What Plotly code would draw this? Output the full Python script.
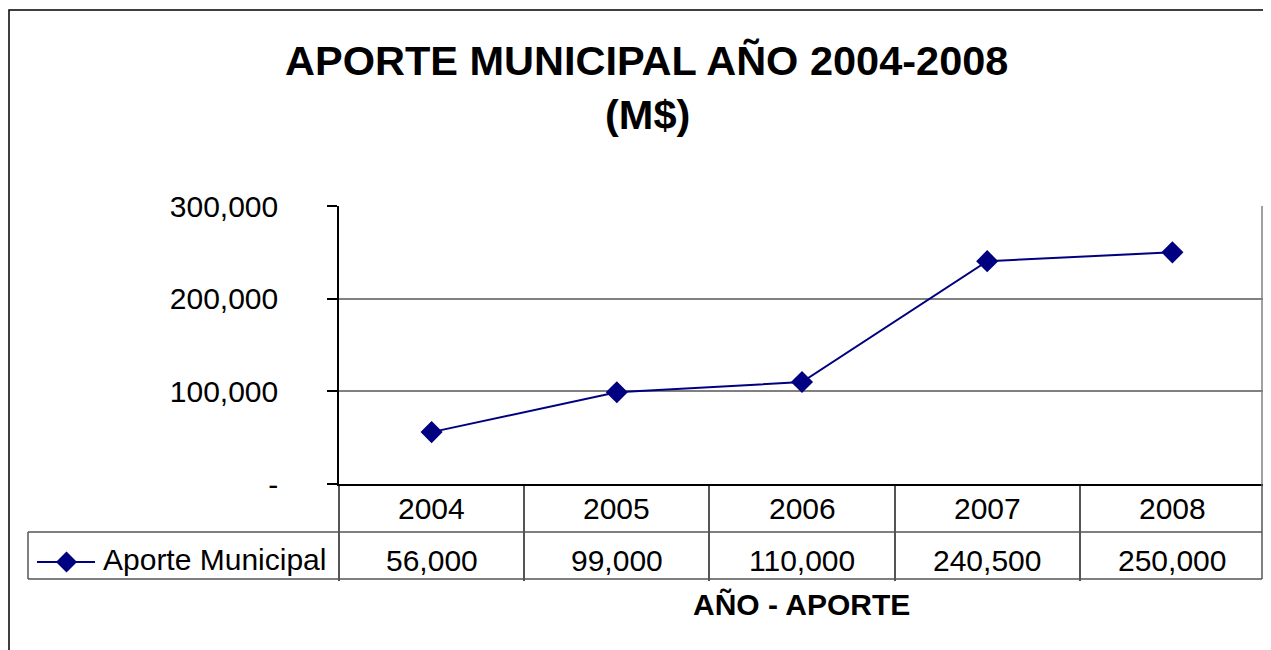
import plotly.graph_objects as go

# ---- data ----
years = ["2004", "2005", "2006", "2007", "2008"]
aporte = [56000, 99000, 110000, 240500, 250000]
series_name = "Aporte Municipal"
y_tickvals = [0, 100000, 200000, 300000]
y_ticktext = ["-", "100,000", "200,000", "300,000"]
title_line1 = "APORTE MUNICIPAL AÑO 2004-2008"
title_line2 = "(M$)"
x_title = "AÑO - APORTE"

# page body margin offsets the figure by 8px; compensate
OFF = 8
W, H = 1271 - OFF, 650 - OFF
FONT = "Arial, Liberation Sans, sans-serif"
NAVY = "#000080"
TBL = "#555555"


def px(x):
    return (x - OFF) / W


def py(y):
    return 1 - (y - OFF) / H


fig = go.Figure()
fig.add_trace(go.Scatter(
    x=list(range(len(years))), y=aporte, mode="lines+markers", name=series_name,
    line=dict(color=NAVY, width=2),
    marker=dict(symbol="diamond", size=17, color=NAVY),
    showlegend=False,
))

shapes = []
# outer chart border
shapes.append(dict(type="rect", xref="paper", yref="paper",
                   x0=px(9), x1=px(1300), y0=py(10), y1=py(700),
                   line=dict(color="black", width=1.5)))
# right border of plot area + table (kept inside the visible page area)
shapes.append(dict(type="line", xref="paper", yref="paper",
                   x0=px(1262), x1=px(1262), y0=py(206), y1=py(484),
                   line=dict(color="#808080", width=1.5)))
shapes.append(dict(type="line", xref="paper", yref="paper",
                   x0=px(1262), x1=px(1262), y0=py(484), y1=py(579),
                   line=dict(color=TBL, width=1.5)))
# table horizontal lines
for yy in (532, 579):
    shapes.append(dict(type="line", xref="paper", yref="paper",
                       x0=px(28), x1=px(1262), y0=py(yy), y1=py(yy),
                       line=dict(color=TBL, width=1.5)))
# legend cell left edge
shapes.append(dict(type="line", xref="paper", yref="paper",
                   x0=px(28), x1=px(28), y0=py(532), y1=py(579),
                   line=dict(color=TBL, width=1.5)))
# legend key line
shapes.append(dict(type="line", xref="paper", yref="paper",
                   x0=px(37), x1=px(95), y0=py(562), y1=py(562),
                   line=dict(color=NAVY, width=2)))
# legend key diamond
cx, cy, r = 66.5, 562, 10.5
shapes.append(dict(type="path", xref="paper", yref="paper",
                   path=(f"M {px(cx - r)} {py(cy)} L {px(cx)} {py(cy - r)} "
                         f"L {px(cx + r)} {py(cy)} L {px(cx)} {py(cy + r)} Z"),
                   fillcolor=NAVY, line=dict(color=NAVY, width=0)))

annotations = []
annotations.append(dict(text=f"<b>{title_line1}</b>", xref="paper", yref="paper",
                        x=px(646), y=py(60), xanchor="center", yanchor="middle",
                        showarrow=False, font=dict(family=FONT, size=41.5, color="black")))
annotations.append(dict(text=f"<b>{title_line2}</b>", xref="paper", yref="paper",
                        x=px(647), y=py(115), xanchor="center", yanchor="middle",
                        showarrow=False, font=dict(family=FONT, size=41.5, color="black")))
annotations.append(dict(text=f"<b>{x_title}</b>", xref="paper", yref="paper",
                        x=px(802), y=py(604), xanchor="center", yanchor="middle",
                        showarrow=False, font=dict(family=FONT, size=30, color="black")))
annotations.append(dict(text=series_name, xref="paper", yref="paper",
                        x=px(101), y=py(559), xanchor="left", yanchor="middle",
                        showarrow=False, font=dict(family=FONT, size=30, color="black")))
for i, (yr, v) in enumerate(zip(years, aporte)):
    annotations.append(dict(text=yr, xref="x", yref="paper", x=i, y=py(508),
                            xanchor="center", yanchor="middle", showarrow=False,
                            font=dict(family=FONT, size=30, color="black")))
    annotations.append(dict(text=f"{v:,}", xref="x", yref="paper", x=i, y=py(560),
                            xanchor="center", yanchor="middle", showarrow=False,
                            font=dict(family=FONT, size=30, color="black")))

fig.update_layout(
    template="none",
    width=W, height=H, autosize=False,
    margin=dict(l=0, r=0, t=0, b=0, pad=0, autoexpand=False),
    paper_bgcolor="white", plot_bgcolor="white",
    font=dict(family=FONT, size=30, color="black"),
    shapes=shapes, annotations=annotations,
    xaxis=dict(
        domain=[px(339), px(1265)],
        range=[-0.5, len(years) - 0.5],
        tickmode="array", tickvals=[i - 0.5 for i in range(len(years) + 1)],
        showticklabels=False, showgrid=False, zeroline=False, automargin=False,
        showline=True, linecolor="black", linewidth=1.5,
        ticks="outside", ticklen=95,
        tickcolor=TBL, tickwidth=1.5,
    ),
    yaxis=dict(
        domain=[py(484), py(206)],
        range=[0, 300000],
        tickmode="array", tickvals=y_tickvals, ticktext=y_ticktext,
        showgrid=True, gridcolor="#808080", gridwidth=1.5,
        zeroline=False, automargin=False,
        showline=True, linecolor="black", linewidth=1.5,
        ticks="outside", ticklen=10, tickcolor="black", tickwidth=1.5,
        ticklabelstandoff=43,
        tickfont=dict(family=FONT, size=30, color="black"),
    ),
)

fig.write_html("out.html")
